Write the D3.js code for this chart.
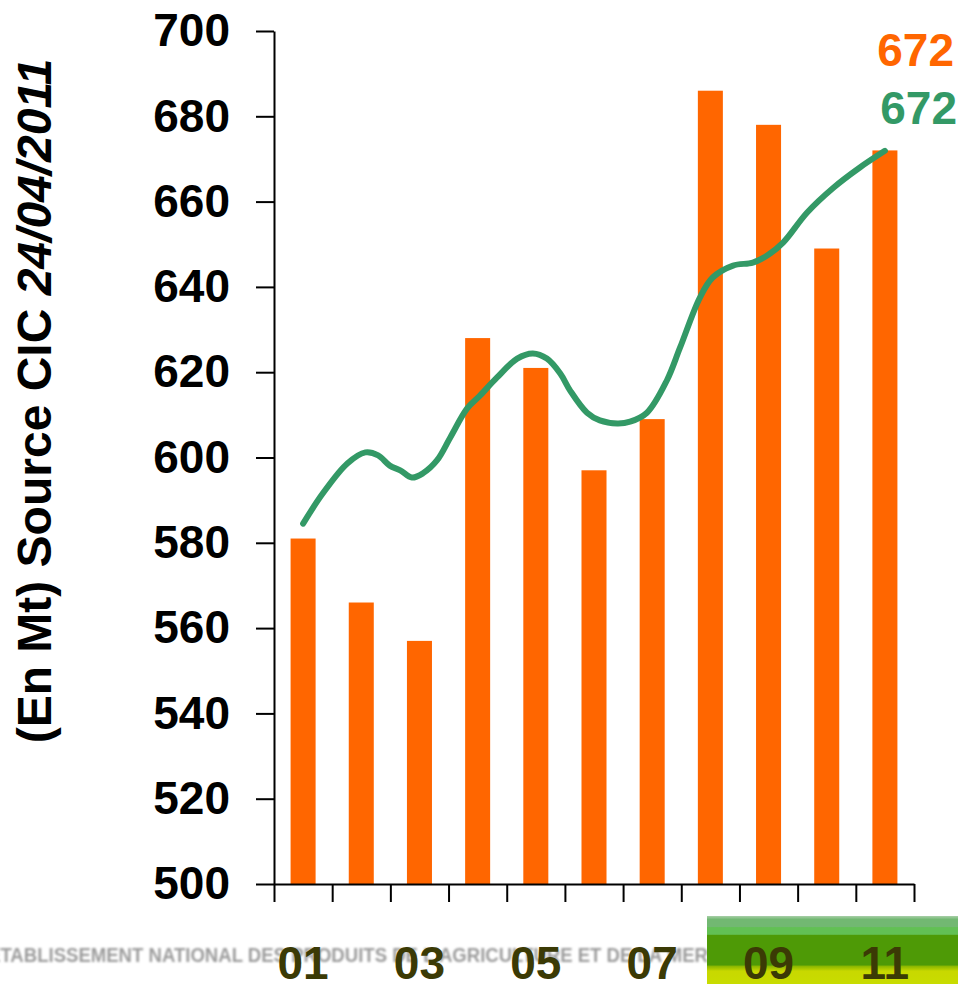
<!DOCTYPE html>
<html>
<head>
<meta charset="utf-8">
<script src="https://cdn.jsdelivr.net/npm/d3@7"></script>
<style>
  body { margin: 0; background: #fff; }
  svg { display: block; font-family: "Liberation Sans", Arial, sans-serif; }
</style>
</head>
<body>
<svg class="chart"></svg>
<script>
const width = 958;
const height = 984;

// monthly production (Mt), one bar per month
const months = ['01', '02', '03', '04', '05', '06', '07', '08', '09', '10', '11'];
const production = [581, 566, 557, 628, 621, 597, 609, 686, 678, 649, 672];
const monthLabels = ['01', '03', '05', '07', '09', '11'];
const yTicks = [500, 520, 540, 560, 580, 600, 620, 640, 660, 680, 700];

// smoothed trend (position in months, value)
const trendPos = [1.00, 1.34, 1.76, 2.07, 2.29, 2.49, 2.67, 2.87, 3.06, 3.30, 3.53, 3.82,
  4.04, 4.33, 4.68, 4.95, 5.19, 5.42, 5.59, 5.88, 6.10, 6.40, 6.62, 6.91, 7.25, 7.48,
  7.82, 8.04, 8.39, 8.73, 8.97, 9.25, 9.66, 10.11, 10.57, 11.00];
const trendVal = [584.5, 591.6, 598.6, 601.2, 600.5, 598.1, 597, 595.3, 596.3, 599.3, 604.7, 611.5,
  614.5, 618.7, 623.2, 624.4, 623.2, 619.7, 615.7, 610.5, 608.7, 608, 608.4, 610.5, 618, 625.8,
  637.5, 642.2, 645, 645.7, 647.3, 650.4, 657.4, 663.2, 668, 671.9];

const orange = '#ff6600';
const green = '#339966';
const fontSize = 46;

const svg = d3.select('.chart').attr('width', width).attr('height', height);

const plot = { left: 274, right: 914, top: 31, bottom: 884 };

const y = d3.scaleLinear().domain([500, 700]).range([plot.bottom, plot.top]);
const x = d3.scaleBand().domain(months)
  .range([plot.left, plot.right])
  .paddingInner(0.57).paddingOuter(0.285);
const xIdx = d3.scaleLinear().domain([0, months.length]).range([plot.left, plot.right]);
const xPos = d3.scaleLinear().domain([1, months.length])
  .range([x(months[0]) + x.bandwidth() / 2, x(months[months.length - 1]) + x.bandwidth() / 2]);

// footer decoration (agency banner)
const defs = svg.append('defs');
defs.append('filter').attr('id', 'soft')
  .append('feGaussianBlur').attr('stdDeviation', 0.8);
const grad = defs.append('linearGradient').attr('id', 'band')
  .attr('x1', 0).attr('y1', 0).attr('x2', 0).attr('y2', 1);
[[0, '#a8cfa8'], [0.05, '#72b872'], [0.16, '#72b872'], [0.17, '#62c054'], [0.27, '#62c054'],
 [0.28, '#4e9a06'], [0.72, '#4e9a06'], [0.74, '#8cb800'], [0.81, '#c8d800'], [1, '#c8dc00']]
  .forEach(s => grad.append('stop').attr('offset', s[0]).attr('stop-color', s[1]));

svg.append('text')
  .attr('x', -12).attr('y', 962)
  .attr('textLength', 720).attr('lengthAdjust', 'spacingAndGlyphs')
  .attr('filter', 'url(#soft)')
  .style('font-size', '21px').style('font-weight', 'bold')
  .style('fill', '#9c9c9c')
  .text("ÉTABLISSEMENT NATIONAL DES PRODUITS DE L'AGRICULTURE ET DE LA MER");

svg.append('rect')
  .attr('x', 707).attr('y', 916)
  .attr('width', width - 707).attr('height', height - 916)
  .attr('fill', 'url(#band)');

// bars
svg.append('g').selectAll('rect')
  .data(months)
  .enter()
  .append('rect')
  .attr('x', d => x(d))
  .attr('width', x.bandwidth())
  .attr('y', (d, i) => y(production[i]))
  .attr('height', (d, i) => y(500) - y(production[i]))
  .attr('fill', orange);

// trend line
const line = d3.line()
  .x(d => xPos(d[0]))
  .y(d => y(d[1]))
  .curve(d3.curveCatmullRom);

svg.append('path')
  .datum(d3.zip(trendPos, trendVal))
  .attr('d', line)
  .attr('fill', 'none')
  .attr('stroke', green)
  .attr('stroke-width', 6)
  .attr('stroke-linecap', 'round')
  .attr('stroke-linejoin', 'round');

// y axis
const yAxis = svg.append('g')
  .attr('transform', `translate(${plot.left},0)`)
  .call(d3.axisLeft(y).tickValues(yTicks).tickSize(18).tickSizeOuter(0).tickPadding(26));
yAxis.selectAll('path, line').attr('stroke', '#000').attr('stroke-width', 2);
yAxis.selectAll('text')
  .style('font-size', fontSize + 'px').style('font-weight', 'bold')
  .style('font-family', '"Liberation Sans", Arial, sans-serif')
  .attr('fill', '#000');

// x axis: ticks on the month boundaries
const xAxis = svg.append('g')
  .attr('transform', `translate(0,${plot.bottom})`)
  .call(d3.axisBottom(xIdx).tickValues(d3.range(months.length + 1)).tickSize(18).tickSizeOuter(0).tickFormat(''));
xAxis.selectAll('path, line').attr('stroke', '#000').attr('stroke-width', 2);

svg.append('g').selectAll('text')
  .data(monthLabels)
  .enter()
  .append('text')
  .attr('x', d => x(d) + x.bandwidth() / 2)
  .attr('y', 979)
  .attr('text-anchor', 'middle')
  .style('font-size', fontSize + 'px').style('font-weight', 'bold')
  .style('fill', '#3b3a05')
  .text(d => d);

// y title
const title = svg.append('text')
  .attr('transform', 'translate(51,401) rotate(-90)')
  .attr('text-anchor', 'middle')
  .style('font-size', '48px').style('font-weight', 'bold')
  .style('fill', '#000');
title.append('tspan').text('(En Mt) Source CIC ');
title.append('tspan').style('font-style', 'italic').text('24/04/2011');

// last values
svg.append('text')
  .attr('x', 954).attr('y', 66)
  .attr('text-anchor', 'end')
  .style('font-size', fontSize + 'px').style('font-weight', 'bold')
  .style('fill', orange)
  .text(production[production.length - 1]);

svg.append('text')
  .attr('x', 957).attr('y', 124)
  .attr('text-anchor', 'end')
  .style('font-size', fontSize + 'px').style('font-weight', 'bold')
  .style('fill', green)
  .text(Math.round(trendVal[trendVal.length - 1]));
</script>
</body>
</html>
